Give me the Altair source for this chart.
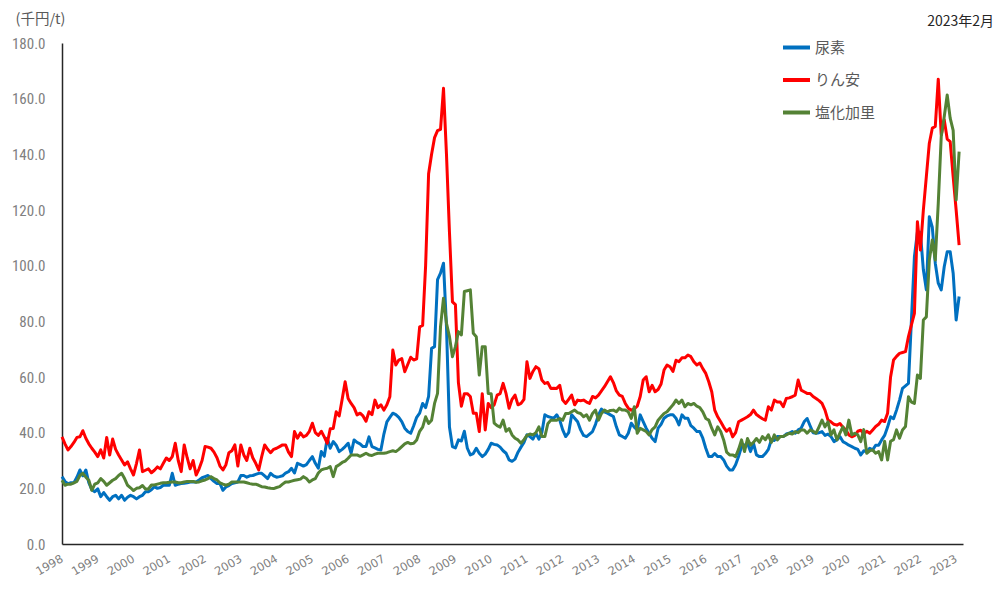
import altair as alt
import pandas as pd

years = list(range(1998, 2024))
series_names = ["尿素", "りん安", "塩化加里"]
series_colors = ["#0070C0", "#FF0000", "#548235"]

# monthly values (thousand yen / t), Jan 1998 - Feb 2023
urea = [
    24.2, 22.5, 21.7, 22, 22, 24, 26.6, 24.5, 26.6, 22, 19.5, 18.8,        # 1998
    19.8, 17, 18.5, 17, 15.7, 17, 17.5, 16.2, 17.5, 15.7, 16.8, 17.5,      # 1999
    17, 16.2, 17, 17.5, 18.8, 18.8, 19.5, 20.6, 20, 20.3, 21.1, 21.1,      # 2000
    21.1, 25.4, 21.1, 21.5, 21.7, 21.8, 22, 22.3, 22.3, 22.3, 23, 23.8,    # 2001
    24.2, 24.6, 23.5, 22.5, 21.7, 21.7, 19.3, 20.5, 21, 21.7, 22, 22.3,    # 2002
    24.6, 24.6, 24, 24.5, 24.6, 25, 25.4, 25.4, 24.5, 23.5, 25.4, 24.5,    # 2003
    24, 24.2, 24.5, 25.5, 26, 27.2, 25.5, 29, 28.5, 28, 28.5, 30,          # 2004
    31.4, 29, 27.2, 33.2, 31.5, 38, 34.4, 36.8, 35.5, 33.2, 34, 35,        # 2005
    36.2, 32.6, 37.4, 36.5, 36, 35, 35, 38.5, 35, 34.5, 34, 33.8,          # 2006
    39.5, 43.9, 45.5, 47, 46.5, 45.5, 44, 41.6, 40.4, 39.8, 42.5, 45.5,    # 2007
    47, 50.5, 49, 53, 70.3, 70.9, 95, 97.3, 100.9, 78, 42, 35,             # 2008
    34.5, 37.4, 37, 40.5, 34.4, 32, 32.5, 34.4, 32.6, 31.4, 32.3, 34,      # 2009
    36.2, 35.8, 35.6, 34.8, 33.5, 32.6, 30.2, 29.7, 30.5, 33, 34.8, 36.5,  # 2010
    39.2, 38.6, 37.7, 39.8, 37.7, 40, 46.4, 45.8, 45.5, 45.2, 46.4, 44.5,  # 2011
    41, 38.6, 40, 46.4, 45.2, 43.9, 41, 39, 38.6, 39.5, 40.4, 43,          # 2012
    46.4, 48.5, 47.5, 47, 46.4, 45.8, 42.1, 39.2, 38.6, 38, 39.8, 43.4,    # 2013
    42, 41, 46.4, 44, 41.6, 39.8, 38, 36.8, 41.6, 43, 45.2, 46,            # 2014
    46.4, 46.4, 45.2, 42.8, 46.4, 45.2, 45.2, 42.5, 41.6, 40.4, 40.4, 38,  # 2015
    34.4, 31.4, 31.4, 32.5, 31.4, 31.4, 30.2, 28, 26.6, 26.6, 28.5, 31.4,  # 2016
    35, 35.5, 36.2, 33.2, 36.2, 32, 31.4, 31.4, 32.5, 34, 37.4, 37.2,      # 2017
    38.6, 38.6, 38.6, 39.5, 39.8, 40.4, 39.8, 41, 41.6, 43.9, 45.1, 42.5,  # 2018
    40, 39.8, 40, 40.4, 39, 39.5, 38.6, 36.8, 37.4, 38.6, 36.8, 36.2,      # 2019
    35.5, 35, 34.4, 34, 32, 33.5, 33.2, 34.4, 33.8, 35.5, 35.5, 37.4,      # 2020
    39, 42, 45.7, 45, 48.1, 51.7, 55.9, 56.8, 57.7, 80.5, 103.2, 112,      # 2021
    112, 98.5, 91.3, 117.6, 113.8, 100.9, 93.7, 91.3, 99.6, 105, 105, 97.3,  # 2022
    80.5, 88.9,                                                            # 2023
]

dap = [
    38.5, 36, 33.8, 35, 36.5, 38.3, 38.5, 40.7, 38, 36, 34.4, 33,          # 1998
    31.4, 33.8, 30.9, 38.3, 32, 37.7, 34, 32, 30.2, 28.4, 29.5, 27,        # 1999
    24.8, 29, 33.8, 26, 26.5, 27, 25.6, 26.5, 27.7, 27, 29, 30.9,          # 2000
    30, 31.4, 36.2, 30, 26, 35.6, 31, 27, 30, 24.8, 27, 30,                # 2001
    35, 34.8, 34.4, 33, 31, 28, 26.6, 28.5, 32.8, 33.5, 35.6, 28,          # 2002
    35.6, 32, 30, 34.4, 31, 29, 26.6, 31.4, 35.6, 34, 32.8, 34,            # 2003
    34.4, 35, 35.6, 35.6, 33, 31.4, 40.4, 38, 39.9, 38.5, 39, 40.5,        # 2004
    43.4, 40, 39, 40.5, 38.5, 36.2, 41.4, 41.5, 47.5, 46, 52, 58.3,        # 2005
    52.3, 50.5, 49, 46.4, 47, 46, 44.1, 47.5, 46.5, 51.7, 49, 50,          # 2006
    48.1, 50, 52.9, 69.7, 64.3, 66.1, 66.6, 61.9, 64.5, 67.1, 66.1, 66.5,  # 2007
    78, 78.5, 100, 133, 140, 146, 148.5, 149, 163.7, 140, 112, 87,         # 2008
    86, 58, 49.5, 54, 54, 53, 47, 47, 40.4, 54, 41, 50.5,                  # 2009
    49, 50, 53.5, 54, 57.7, 54, 48.8, 52, 53.5, 50, 50.5, 52,              # 2010
    65.5, 59.5, 62, 63.7, 63, 58.9, 57.7, 58, 55.9, 56, 55.9, 57,          # 2011
    51.7, 50.5, 52, 53.5, 50, 51.7, 51.5, 51.7, 51, 50.5, 53, 52.5,        # 2012
    53.5, 55, 56.5, 58.3, 60.1, 58, 55, 53.5, 53, 50.5, 48.8, 48.1,        # 2013
    48.5, 49.5, 53, 58.9, 60.1, 54.7, 57, 54.7, 55.5, 57.5, 62.5, 64.3,    # 2014
    63.7, 62, 66, 65.5, 66.9, 66.9, 67.9, 67.3, 65.5, 64.3, 65, 63,        # 2015
    61.3, 58.3, 54.7, 48.1, 45.7, 43.9, 42, 40.5, 41.5, 38.5, 40, 43.9,    # 2016
    44.5, 45.1, 45.7, 46.5, 48.1, 46.5, 45.7, 45, 44.5, 49.3, 48.1, 51.7,  # 2017
    51, 51, 49.3, 52.3, 52.5, 52.9, 53.5, 58.9, 55.3, 54.7, 54.1, 54.1,    # 2018
    53, 52.3, 51.5, 50.5, 48.1, 44.5, 43.9, 43, 42.7, 43.3, 42, 40.9,      # 2019
    39.2, 38.5, 39, 40.5, 40.9, 39.5, 40.5, 39.8, 41, 42.2, 43, 44.5,      # 2020
    44, 47, 60, 66.1, 67.4, 68.5, 68.8, 69.1, 74.5, 78.7, 82.9, 115.8,     # 2021
    105.6, 120, 132, 144, 149.4, 150, 167, 147, 152.4, 145.5, 144.6, 132,  # 2022
    120, 107.4,                                                            # 2023
]

potash = [
    22.9, 21.1, 21.5, 21.5, 22, 22.5, 24.6, 25.4, 24, 22.9, 19.3, 21.5,    # 1998
    22, 23.5, 22.5, 21.1, 22, 22.9, 23.5, 24.6, 25.4, 23.5, 21.1, 20.2,    # 1999
    19.2, 20, 20.2, 21, 19.8, 19.8, 21.2, 21.2, 21.5, 21.8, 22, 22,        # 2000
    22.2, 22.3, 22.3, 22, 22, 22.3, 22.5, 22.5, 22.5, 22.2, 22.3, 22.7,    # 2001
    23, 23.5, 24.2, 23.5, 23, 22, 21.5, 21.1, 21.5, 22.3, 22.3, 22.3,      # 2002
    22.3, 22.3, 22, 21.7, 21.5, 21.5, 21.1, 20.6, 20.5, 20.2, 20, 19.9,    # 2003
    20.3, 20.6, 21.5, 22.3, 22.3, 22.6, 22.9, 23.1, 23.3, 24.2, 23.5, 22.3,  # 2004
    23, 23.5, 25.5, 26.6, 27, 27.2, 27.8, 24.2, 27.8, 28.5, 29.3, 29.8,    # 2005
    30.8, 32, 32, 32, 31.5, 32, 32.6, 32, 31.8, 32.3, 32.6, 32.6,          # 2006
    32.6, 32.8, 33.2, 33.5, 33.2, 34, 35, 36, 36.5, 36, 36.2, 37.4,        # 2007
    40.5, 42, 45.7, 43.3, 44.5, 50.5, 54.1, 78.1, 88.3, 79.3, 74.5, 67.3,  # 2008
    70.9, 76.3, 75.1, 90.7, 91, 91.3, 75.7, 74.5, 60.7, 70.9, 70.9, 54.1,  # 2009
    54, 43.4, 42.5, 42, 44.5, 40.5, 41.5, 39.2, 38, 37.4, 36.2, 37.5,      # 2010
    39, 39.5, 39.2, 40, 42.1, 38.6, 38.6, 43.2, 44.5, 44.5, 44.5, 45.1,    # 2011
    44.5, 46.9, 46.9, 47.5, 48.1, 47.2, 46.9, 45.7, 46.4, 44.5, 46.9, 48.1,  # 2012
    44.5, 46.9, 48.1, 47.5, 48, 48.1, 47.5, 48.8, 48.1, 48.1, 47.5, 45.1,  # 2013
    49.3, 39.8, 41.6, 41, 40.4, 39.2, 41.1, 42.1, 44.5, 45.7, 46.9, 47.5,  # 2014
    48.8, 50, 51.7, 50.5, 51.7, 49.3, 50.5, 50, 50.5, 49.5, 49, 47.5,      # 2015
    45.1, 44.5, 41.6, 39.2, 42.1, 40.4, 37.4, 33, 32, 32, 31.4, 34,        # 2016
    37.4, 33.2, 37.9, 35.5, 36.5, 37.9, 36.5, 38.6, 37.5, 39.2, 36.5, 39.2,  # 2017
    37.4, 38.6, 38.6, 39.2, 39.8, 39.5, 40.4, 40, 41, 41, 39.8, 41,        # 2018
    40.5, 39.8, 42.1, 44.5, 42.1, 43.9, 39.2, 41, 37.4, 39.8, 42.1, 39.2,  # 2019
    44.5, 39.2, 39.8, 39.2, 36.8, 41.1, 32.6, 33.5, 33.8, 32.6, 33.2, 30.2,  # 2020
    36.9, 30.2, 36.9, 37.5, 41, 38, 41, 42.2, 52.9, 51, 50.5, 60.7,        # 2021
    59.5, 80.5, 81.6, 102, 109.2, 102, 122.4, 146.4, 153.5, 161.3, 153, 148.6,  # 2022
    123.6, 141,                                                            # 2023
]

y_ticks = [0, 20, 40, 60, 80, 100, 120, 140, 160, 180]

rows = []
for name, vals in zip(series_names, [urea, dap, potash]):
    for i, v in enumerate(vals):
        rows.append({"month": i, "series": name, "value": v})
df = pd.DataFrame(rows)

jp_font = "Noto Sans CJK JP"
num_font = "Liberation Sans Narrow, Roboto Condensed, DejaVu Sans Condensed, sans-serif"

x_axis = alt.Axis(
    values=[12 * k for k in range(len(years))],
    labelExpr="toString(1998 + round(datum.value / 12))",
    labelAngle=-30,
    labelAlign="right",
    labelBaseline="middle",
    labelPadding=14,
    labelFont="DejaVu Sans",
    labelFontSize=11.5,
    labelColor="#7f7f7f",
    labelOverlap=False,
    labelFlush=False,
    ticks=False,
    grid=False,
    domainColor="#262626",
    domainWidth=1.5,
    title=None,
)

y_axis = alt.Axis(
    values=y_ticks,
    format=".1f",
    labelFont=num_font,
    labelFontSize=15,
    labelColor="#808080",
    labelPadding=17,
    ticks=False,
    grid=False,
    domainColor="#262626",
    domainWidth=1.5,
    title="(千円/t)",
    titleFont=jp_font,
    titleFontSize=14.5,
    titleFontWeight="normal",
    titleColor="#595959",
    titleAngle=0,
    titleAlign="left",
    titleBaseline="middle",
    titleX=-47,
    titleY=-24,
)

chart = (
    alt.Chart(df)
    .mark_line(strokeWidth=3, strokeJoin="round")
    .encode(
        x=alt.X("month:Q", scale=alt.Scale(domain=[0, 302.3], nice=False, zero=False), axis=x_axis),
        y=alt.Y("value:Q", scale=alt.Scale(domain=[0, 180], nice=False), axis=y_axis),
        color=alt.Color(
            "series:N",
            scale=alt.Scale(domain=series_names, range=series_colors),
            legend=alt.Legend(
                title=None,
                orient="none",
                legendX=719,
                legendY=-11,
                symbolType="stroke",
                symbolSize=729,
                symbolStrokeWidth=4,
                labelFont=jp_font,
                labelFontSize=15,
                labelColor="#595959",
                labelOffset=3,
                rowPadding=8.5,
            ),
            sort=series_names,
        ),
        order=alt.value(0),
    )
    .properties(
        width=901,
        height=501,
        padding={"left": 54, "top": 35, "right": 34, "bottom": 40},
        autosize=alt.AutoSizeParams(type="none"),
        title=alt.TitleParams(
            "2023年2月",
            anchor="end",
            dx=31,
            dy=18,
            offset=0,
            font=jp_font,
            fontSize=14,
            fontWeight="normal",
            color="#262626",
        ),
    )
    .configure_view(stroke=None)
)

chart.save("out.html", embed_options={"renderer": "svg", "actions": False})
